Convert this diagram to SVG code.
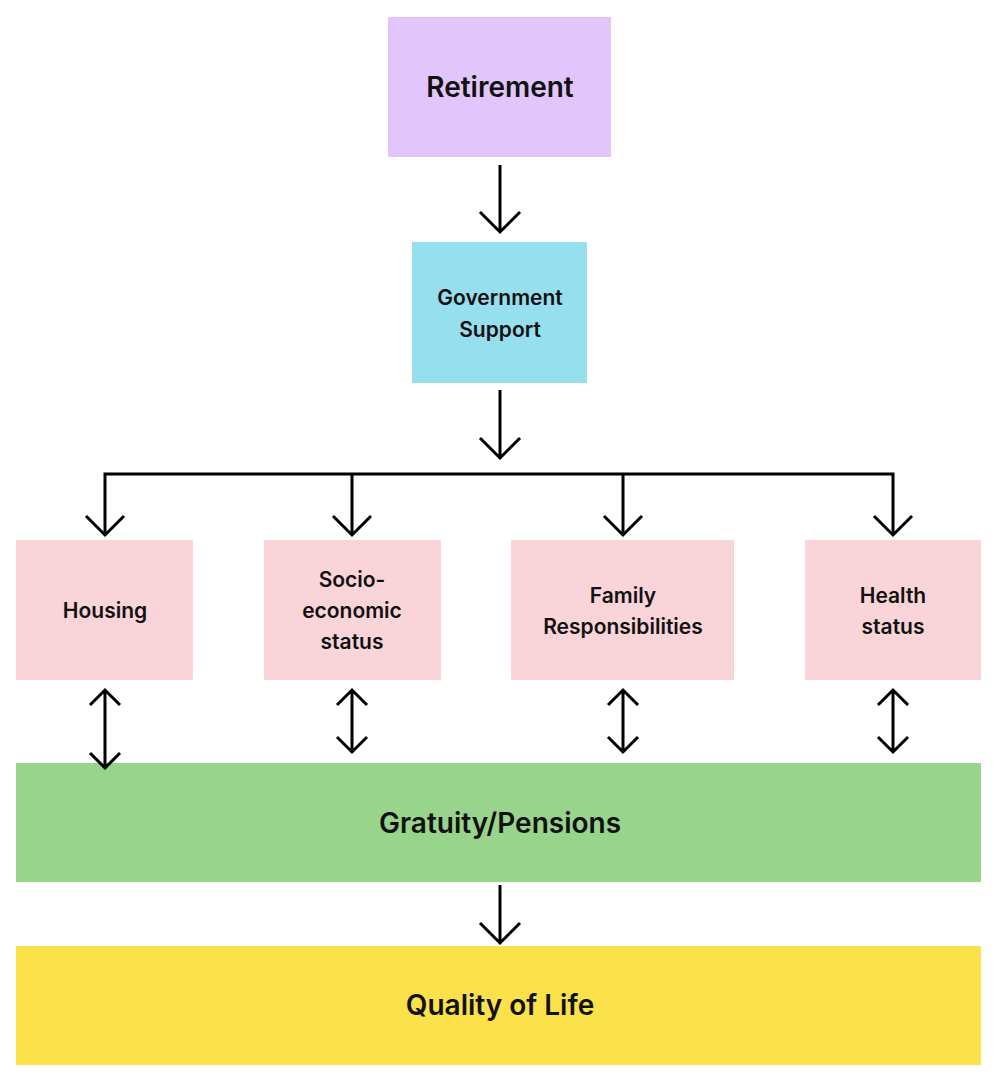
<svg xmlns="http://www.w3.org/2000/svg" width="1000" height="1083" viewBox="0 0 1000 1083">
<style>
text{font-family:Inter,"Liberation Sans",sans-serif;font-weight:600;fill:#111;text-anchor:middle}
.s{font-size:21px}.b{font-size:28px}
.c{stroke:#000;stroke-width:3;fill:none}
</style>
<rect width="1000" height="1083" fill="#fff"/>
<g id="retirement"><rect x="388" y="17" width="223" height="140" fill="#E2C6FB"/><text class="b" x="500" y="97">Retirement</text></g>
<g id="gov"><rect x="412" y="242" width="175" height="141" fill="#96DFEE"/><text class="s" x="500" y="305">Government</text><text class="s" x="500" y="337">Support</text></g>
<g id="housing"><rect x="16" y="540" width="177" height="140" fill="#F9D4D9"/><text class="s" x="105" y="618">Housing</text></g>
<g id="socio"><rect x="264" y="540" width="177" height="140" fill="#F9D4D9"/><text class="s" x="352" y="587">Socio-</text><text class="s" x="352" y="618">economic</text><text class="s" x="352" y="649">status</text></g>
<g id="family"><rect x="511" y="540" width="223" height="140" fill="#F9D4D9"/><text class="s" x="623" y="603">Family</text><text class="s" x="623" y="634">Responsibilities</text></g>
<g id="health"><rect x="805" y="540" width="176" height="140" fill="#F9D4D9"/><text class="s" x="893" y="603">Health</text><text class="s" x="893" y="634">status</text></g>
<g id="gratuity"><rect x="16" y="763" width="965" height="119" fill="#98D48C"/><text class="b" x="500" y="833">Gratuity/Pensions</text></g>
<g id="quality"><rect x="16" y="946" width="965" height="119" fill="#FBE14A"/><text class="b" x="500" y="1015">Quality of Life</text></g>
<g id="connectors" class="c">
<path d="M500 165V232M480 212L500 232L520 212"/>
<path d="M500 390V458M480 438L500 458L520 438"/>
<path d="M105 535V474H893V535M352 474V535M623 474V535"/>
<path d="M86 516L105 535L124 516M333 516L352 535L371 516M604 516L623 535L642 516M874 516L893 535L912 516"/>
<path d="M105 690V768M90 705L105 690L120 705M90 753L105 768L120 753"/>
<path d="M352 690V752M337 705L352 690L367 705M337 737L352 752L367 737"/>
<path d="M623 690V752M608 705L623 690L638 705M608 737L623 752L638 737"/>
<path d="M893 690V752M878 705L893 690L908 705M878 737L893 752L908 737"/>
<path d="M500 885V943M480 923L500 943L520 923"/>
</g>
</svg>
